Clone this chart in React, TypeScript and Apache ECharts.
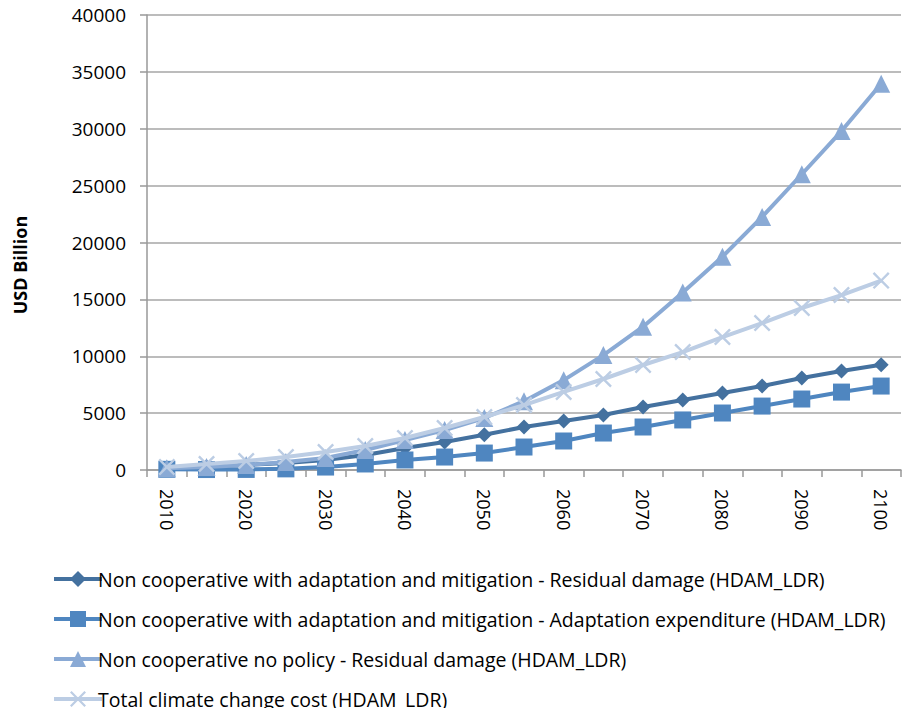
import React, { useEffect, useRef } from "react";
import * as echarts from "echarts";

const years = ["2010","2015","2020","2025","2030","2035","2040","2045","2050","2055","2060","2065","2070","2075","2080","2085","2090","2095","2100"];
const seriesNames = [
  "Non cooperative with adaptation and mitigation - Residual damage (HDAM_LDR)",
  "Non cooperative with adaptation and mitigation - Adaptation expenditure (HDAM_LDR)",
  "Non cooperative no policy - Residual damage (HDAM_LDR)",
  "Total climate change cost (HDAM_LDR)",
];
const residualDamage = [170, 260, 440, 620, 880, 1320, 1930, 2460, 3100, 3780, 4300, 4830, 5540, 6150, 6770, 7380, 8090, 8700, 9250];
const adaptationExp = [60, 40, 50, 100, 260, 530, 880, 1140, 1490, 2020, 2550, 3250, 3780, 4400, 5010, 5620, 6240, 6850, 7380];
const noPolicy = [150, 260, 440, 700, 1060, 1760, 2640, 3520, 4570, 6050, 7900, 10100, 12600, 15600, 18750, 22250, 26000, 29800, 33950];
const totalCost = [260, 530, 790, 1140, 1580, 2110, 2810, 3690, 4660, 5710, 6860, 8000, 9230, 10370, 11690, 12920, 14240, 15380, 16650];

const colors = ["#44719F", "#4F86C0", "#8AAAD5", "#BCCDE4"];
const crossPath = "path://M0,1 L1,0 L5,4 L9,0 L10,1 L6,5 L10,9 L9,10 L5,6 L1,10 L0,9 L4,5 Z";

export default function App() {
  const ref = useRef<HTMLDivElement>(null);
  useEffect(() => {
    if (!ref.current) return;
    const chart = echarts.init(ref.current, null, { renderer: "svg" });
    const dataSets = [residualDamage, adaptationExp, noPolicy, totalCost];
    const symbols = ["diamond", "rect", "triangle", crossPath];
    const sizes = [15, 17, 18, 17];
    chart.setOption({
      animation: false,
      color: colors,
      grid: { left: 147, right: 10, top: 15, bottom: 246 },
      graphic: [
        {
          type: "text",
          x: 20,
          y: 265,
          rotation: Math.PI / 2,
          style: {
            text: "USD Billion",
            fontSize: 18,
            fontWeight: "bold",
            fontFamily: "Open Sans, sans-serif",
            fill: "#000",
            textAlign: "center",
            textVerticalAlign: "middle",
          },
        },
      ],
      legend: {
        orient: "vertical",
        left: 47,
        top: 564,
        itemGap: 20,
        itemWidth: 48,
        itemHeight: 20,
        data: seriesNames,
        lineStyle: { width: 4 },
        textStyle: { fontSize: 19.5, fontFamily: "Open Sans, sans-serif", color: "#000", padding: [0, 0, 0, -9] },
      },
      xAxis: {
        type: "category",
        data: years,
        boundaryGap: true,
        axisLine: { lineStyle: { color: "#999", width: 1.5 } },
        axisTick: { show: true, length: 7, interval: 0, lineStyle: { color: "#999", width: 1.5 } },
        axisLabel: {
          interval: 1,
          rotate: -90,
          margin: 19,
          fontSize: 18,
          fontFamily: "Open Sans, sans-serif",
          color: "#000",
        },
        splitLine: { show: false },
      },
      yAxis: {
        type: "value",
        min: 0,
        max: 40000,
        interval: 5000,
        axisLine: { show: true, lineStyle: { color: "#999", width: 1.5 } },
        axisTick: { show: true, length: 7, lineStyle: { color: "#999", width: 1.5 } },
        axisLabel: {
          margin: 21,
          fontSize: 19,
          fontFamily: "Open Sans, sans-serif",
          color: "#000",
          formatter: (v: number) => String(v),
        },
        splitLine: { lineStyle: { color: "#A6A6A6", width: 1.5 } },
      },
      series: seriesNames.map((name, i) => ({
        name,
        type: "line",
        data: dataSets[i],
        symbol: symbols[i],
        symbolSize: sizes[i],
        showAllSymbol: true,
        lineStyle: { width: 4, color: colors[i] },
        itemStyle: { color: colors[i] },
        z: 2 + i,
      })),
    });
    return () => chart.dispose();
  }, []);
  return <div ref={ref} style={{ width: 911, height: 716, margin: -8 }} />;
}
